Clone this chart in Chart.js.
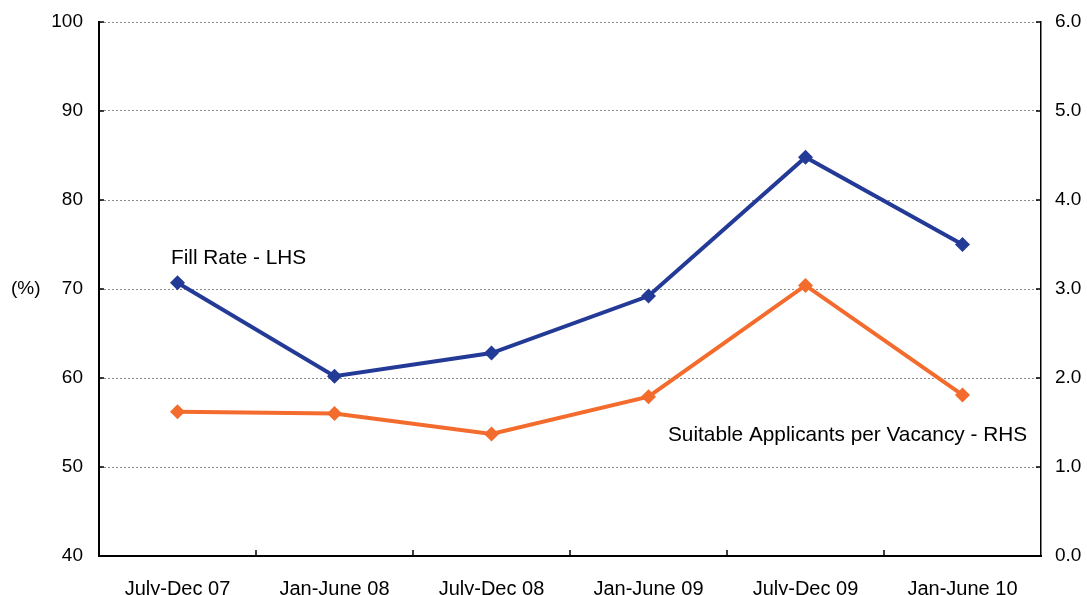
<!DOCTYPE html>
<html>
<head>
<meta charset="utf-8">
<script src="https://cdn.jsdelivr.net/npm/chart.js@4.4.0/dist/chart.umd.min.js"></script>
<style>
  html, body { margin: 0; padding: 0; background: #fff; overflow: hidden; }
  canvas { display: block; }
</style>
</head>
<body>
<canvas id="myChart" width="1087" height="620"></canvas>
<script>
const periods = ['July-Dec 07', 'Jan-June 08', 'July-Dec 08', 'Jan-June 09', 'July-Dec 09', 'Jan-June 10'];
const fillRate = [70.7, 60.2, 62.8, 69.2, 84.8, 75.0];          // LHS, %
const applicantsPerVacancy = [1.62, 1.60, 1.37, 1.79, 3.04, 1.81]; // RHS
const leftTicks = [40, 50, 60, 70, 80, 90, 100];
const rightTicks = [0, 1, 2, 3, 4, 5, 6];

const BLUE = '#243a97';
const ORANGE = '#f36b2d';
const FONT = 'Liberation Sans, Arial, sans-serif';

// inward tick marks + text labels on the chart
const extras = {
  id: 'extras',
  afterDraw(chart) {
    const ctx = chart.ctx;
    const x = chart.scales.x, yl = chart.scales.yl, yr = chart.scales.yr;
    const area = chart.chartArea;
    ctx.save();
    ctx.strokeStyle = '#000';
    ctx.lineWidth = 1.5;
    ctx.beginPath();
    for (let i = 0; i < periods.length - 1; i++) {
      const px = (x.getPixelForValue(i) + x.getPixelForValue(i + 1)) / 2;
      ctx.moveTo(px, area.bottom);
      ctx.lineTo(px, area.bottom - 6);
    }
    leftTicks.forEach(v => {
      const py = yl.getPixelForValue(v);
      ctx.moveTo(area.left, py);
      ctx.lineTo(area.left + 5, py);
    });
    rightTicks.forEach(v => {
      const py = yr.getPixelForValue(v);
      ctx.moveTo(area.right, py);
      ctx.lineTo(area.right - 5, py);
    });
    ctx.stroke();

    ctx.fillStyle = '#000';
    ctx.font = '20.8px ' + FONT;
    ctx.textBaseline = 'middle';
    ctx.textAlign = 'left';
    ctx.fillText('Fill Rate - LHS', 171, 258);
    ctx.fillText('Suitable Applicants per Vacancy - RHS', 668, 435);
    ctx.font = '19px ' + FONT;
    ctx.fillText('(%)', 11, 289);
    ctx.restore();
  }
};

function fixY(width) {
  return function(scale) {
    scale.width = width;
    scale.paddingTop = 0;
    scale.paddingBottom = 0;
  };
}

const ctx = document.getElementById('myChart').getContext('2d');
new Chart(ctx, {
  type: 'line',
  data: {
    labels: periods,
    datasets: [{
      label: 'Fill Rate - LHS',
      data: fillRate,
      yAxisID: 'yl',
      borderColor: BLUE,
      backgroundColor: BLUE,
      borderWidth: 4,
      pointStyle: 'rectRot',
      pointRadius: 7.5,
      pointBorderWidth: 0,
      tension: 0
    }, {
      label: 'Suitable Applicants per Vacancy - RHS',
      data: applicantsPerVacancy,
      yAxisID: 'yr',
      borderColor: ORANGE,
      backgroundColor: ORANGE,
      borderWidth: 4,
      pointStyle: 'rectRot',
      pointRadius: 7.5,
      pointBorderWidth: 0,
      tension: 0
    }]
  },
  options: {
    responsive: false,
    animation: false,
    layout: { padding: { top: 22, left: 0, right: 0, bottom: 0 } },
    plugins: { legend: { display: false }, tooltip: { enabled: false } },
    scales: {
      x: {
        offset: true,
        grid: { display: false, drawTicks: false },
        border: { display: true, color: '#000', width: 2 },
        ticks: { color: '#000', font: { size: 20, family: FONT }, padding: 21, maxRotation: 0, autoSkip: false },
        afterFit(scale) { scale.height = 64; scale.paddingLeft = 0; scale.paddingRight = 0; }
      },
      yl: {
        position: 'left',
        min: 40, max: 100,
        afterBuildTicks(scale) { scale.ticks = leftTicks.map(v => ({ value: v })); },
        grid: { color: '#8a8a8a', lineWidth: 1, drawTicks: false },
        border: { display: true, color: '#000', width: 2, dash: [2, 2] },
        ticks: { color: '#000', font: { size: 19, family: FONT }, padding: 16 },
        afterFit: fixY(99)
      },
      yr: {
        position: 'right',
        min: 0, max: 6,
        afterBuildTicks(scale) { scale.ticks = rightTicks.map(v => ({ value: v })); },
        grid: { drawOnChartArea: false, drawTicks: false },
        border: { display: true, color: '#000', width: 1.5 },
        ticks: { color: '#000', font: { size: 19, family: FONT }, padding: 14,
          callback: v => Number(v).toFixed(1) },
        afterFit: fixY(46)
      }
    }
  },
  plugins: [extras]
});
</script>
</body>
</html>
